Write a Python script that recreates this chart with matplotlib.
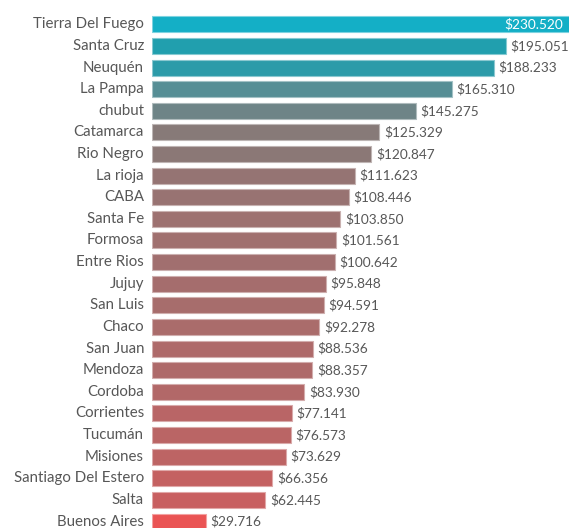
import numpy as np
import matplotlib
matplotlib.use("Agg")
import matplotlib.pyplot as plt
from matplotlib.colors import LinearSegmentedColormap

provinces = ["Tierra Del Fuego", "Santa Cruz", "Neuquén", "La Pampa", "chubut",
             "Catamarca", "Rio Negro", "La rioja", "CABA", "Santa Fe", "Formosa",
             "Entre Rios", "Jujuy", "San Luis", "Chaco", "San Juan", "Mendoza",
             "Cordoba", "Corrientes", "Tucumán", "Misiones", "Santiago Del Estero",
             "Salta", "Buenos Aires"]
values = [230520, 195051, 188233, 165310, 145275, 125329, 120847, 111623, 108446,
          103850, 101561, 100642, 95848, 94591, 92278, 88536, 88357, 83930, 77141,
          76573, 73629, 66356, 62445, 29716]

# colour scale anchored on values: red for low, grey in the middle, cyan for high
scale_values = [29716, 62445, 125329, 165310, 195051, 230520]
scale_colors = ["#EA5454", "#C85F60", "#877A78", "#568E95", "#219FAE", "#14AFC6"]

vals = np.array(values, dtype=float)
lo, hi = min(scale_values), max(scale_values)
stops = [((v - lo) / (hi - lo), c) for v, c in zip(scale_values, scale_colors)]
cmap = LinearSegmentedColormap.from_list("prov", stops)
colors = [cmap((v - lo) / (hi - lo)) for v in vals]
edges = [tuple(0.55 * np.array(c[:3]) + 0.45) for c in colors]

plt.rcParams['font.family'] = ['Lato', 'DejaVu Sans']
fig = plt.figure(figsize=(5.69, 5.28), dpi=100)
ax = fig.add_axes([152 / 569, 0, 1 - 152 / 569, 1])

y = np.arange(len(provinces))
ax.barh(y, vals, height=0.74, color=colors, edgecolor=edges, linewidth=0.8)
ax.set_xlim(0, 229800)
ax.set_ylim(23.30, -1.124)
ax.axis("off")

txt = "#575757"
for yi, name in zip(y, provinces):
    ax.text(-8 / 0.001815, yi, name, ha="right", va="center",
            fontsize=10.8, color=txt)

for i, (yi, v) in enumerate(zip(y, vals)):
    label = "${:,.0f}".format(v).replace(",", ".")
    if i == 0:
        ax.text(v - 3800, yi, label, ha="right", va="center",
                fontsize=9.8, color="white")
    else:
        ax.text(v + 2600, yi, label, ha="left", va="center",
                fontsize=9.8, color=txt)

fig.savefig("out.png", dpi=100)
